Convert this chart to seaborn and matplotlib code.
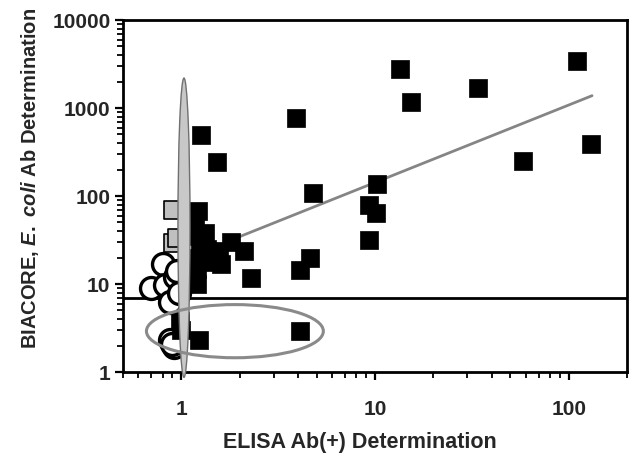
import numpy as np
import pandas as pd
import matplotlib
matplotlib.use("Agg")
import matplotlib.pyplot as plt
import seaborn as sns
from matplotlib.patches import Ellipse
from matplotlib.ticker import LogLocator, NullFormatter, FixedLocator, FixedFormatter

# ---- data ----
pos_x = [110, 34, 13.5, 15.4, 3.9, 1.27, 1.52, 130, 58, 10.2, 4.8, 9.3, 10.1, 9.3,
         4.6, 4.1, 2.3, 2.1, 1.8, 1.56, 1.6, 1.32, 1.22, 1.18, 1.2, 1.25, 1.22, 1.2,
         1.35, 1.45, 1.5, 1.2, 1.15, 1.23, 4.1, 0.98, 1.0]
pos_y = [3400, 1700, 2800, 1170, 770, 494, 244, 390, 250, 137, 108, 79, 64, 32,
         20, 14.5, 11.7, 24, 30, 24, 17, 38, 68, 45, 35, 28, 20, 15,
         25, 18, 22, 10, 12, 2.3, 2.9, 3.8, 3.0]

neg_x = [0.80, 0.70, 0.82, 0.87, 0.93, 0.95, 0.97, 0.92, 0.87, 0.90]
neg_y = [17, 9.0, 9.8, 6.2, 12, 14, 8, 1.9, 2.3, 2.1]

gray_x = [0.91, 0.91, 0.95]
gray_y = [70, 29, 33]

fit_x = [1.9, 132]
fit_y = [33, 1380]

cutoff_y = 7

x_ticks = [1, 10, 100]
x_tick_labels = ["1", "10", "100"]
y_ticks = [1, 10, 100, 1000, 10000]
y_tick_labels = ["1", "10", "100", "1000", "10000"]

# ---- style ----
sns.set_style("ticks")
plt.rcParams['font.family'] = ['Liberation Sans', 'DejaVu Sans']
plt.rcParams['font.weight'] = 'bold'
plt.rcParams['mathtext.fontset'] = 'custom'
plt.rcParams['mathtext.it'] = 'Liberation Sans:italic:bold'
plt.rcParams['mathtext.rm'] = 'Liberation Sans:bold'

fig = plt.figure(figsize=(6.3, 4.59), dpi=100)
ax = fig.add_axes([123/630, (459-372)/459, 504/630, 352/459])

ax.set_xscale("log")
ax.set_yscale("log")
ax.set_xlim(0.5, 200)
ax.set_ylim(1, 10000)

df_pos = pd.DataFrame({"x": pos_x, "y": pos_y})
df_neg = pd.DataFrame({"x": neg_x, "y": neg_y})
df_gray = pd.DataFrame({"x": gray_x, "y": gray_y})
df_fit = pd.DataFrame({"x": fit_x, "y": fit_y})

sns.lineplot(data=df_fit, x="x", y="y", ax=ax, color="#858585", lw=2, zorder=2)
ax.axhline(cutoff_y, color="black", lw=2, zorder=2)

sns.scatterplot(data=df_neg, x="x", y="y", ax=ax, marker="o", s=250,
                facecolor="white", edgecolor="black", linewidth=2.4, zorder=3)
sns.scatterplot(data=df_gray, x="x", y="y", ax=ax, marker="s", s=170,
                facecolor="#c0c0c0", edgecolor="black", linewidth=1.2, zorder=3)
sns.scatterplot(data=df_pos, x="x", y="y", ax=ax, marker="s", s=170,
                facecolor="black", edgecolor="black", linewidth=0.5, zorder=4)

# annotation ellipses (axes-fraction coordinates)
ax.add_patch(Ellipse((0.121, 0.41), 0.024, 0.85, transform=ax.transAxes,
                     facecolor="#c8c8c8", edgecolor="#707070", lw=1,
                     zorder=5, clip_on=False))
ax.add_patch(Ellipse((0.222, 0.116), 0.351, 0.151, transform=ax.transAxes,
                     facecolor="none", edgecolor="#8a8a8a", lw=2.2, zorder=6))

# axes / ticks
for sp in ax.spines.values():
    sp.set_visible(True)
    sp.set_linewidth(2)
    sp.set_color("black")

ax.xaxis.set_major_locator(FixedLocator(x_ticks))
ax.xaxis.set_major_formatter(FixedFormatter(x_tick_labels))
ax.yaxis.set_major_locator(FixedLocator(y_ticks))
ax.yaxis.set_major_formatter(FixedFormatter(y_tick_labels))
ax.xaxis.set_minor_locator(LogLocator(base=10, subs=np.arange(2, 10)))
ax.yaxis.set_minor_locator(LogLocator(base=10, subs=np.arange(2, 10)))
ax.xaxis.set_minor_formatter(NullFormatter())
ax.yaxis.set_minor_formatter(NullFormatter())
ax.tick_params(which="major", direction="out", length=6, width=1.6,
               labelsize=15, pad=3, color="black")
ax.tick_params(which="minor", direction="out", length=4, width=1.3, color="black")
ax.tick_params(axis="x", which="major", pad=14)
for lab in ax.get_xticklabels() + ax.get_yticklabels():
    lab.set_fontweight("bold")

ax.set_xlabel("ELISA Ab(+) Determination", fontsize=15.5, fontweight="bold", labelpad=12)
ax.xaxis.set_label_coords(0.47, -0.17)
ax.set_ylabel(r"BIACORE, $\mathit{E.\ coli}$ Ab Determination", fontsize=14.5,
              fontweight="bold")
ax.yaxis.set_label_coords(-0.163, 0.55)

fig.savefig("out.png", dpi=100)
